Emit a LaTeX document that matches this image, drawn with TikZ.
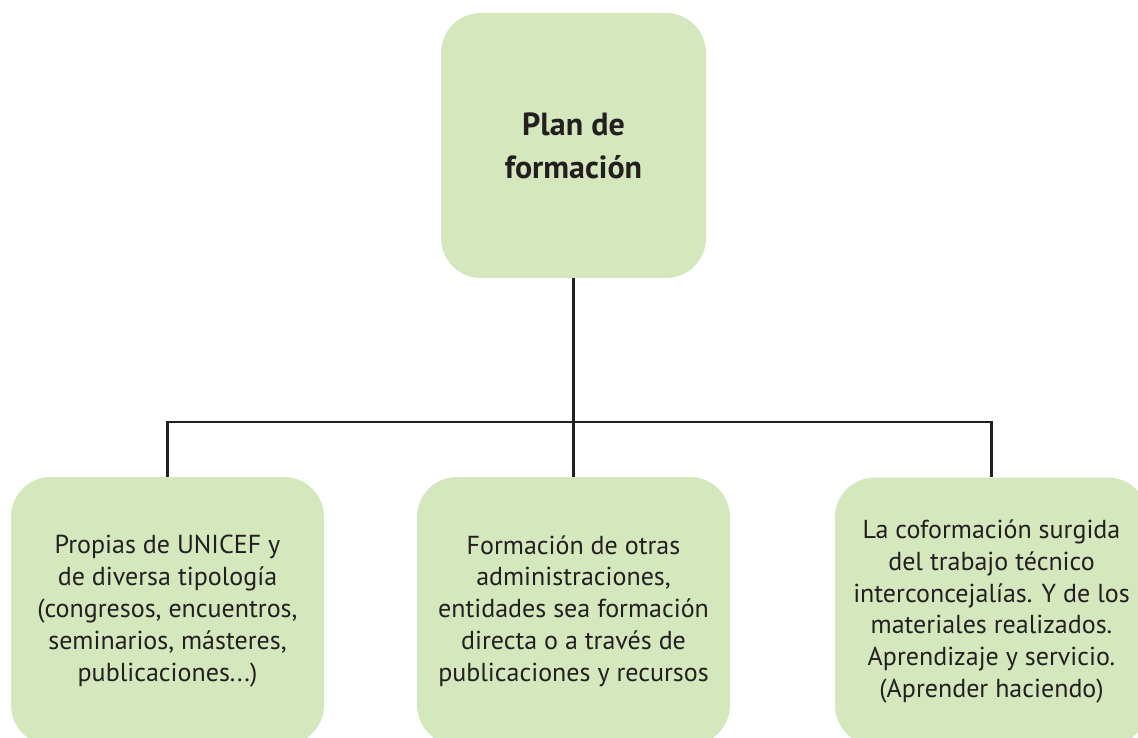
\documentclass[tikz,border=0pt]{standalone}
\usepackage{fontspec}
\setmainfont{PT Sans}
\definecolor{boxgreen}{RGB}{213,232,189}
\definecolor{ink}{RGB}{35,31,32}
\begin{document}
\begin{tikzpicture}[x=1pt,y=-1pt,
  box/.style={fill=boxgreen, draw=none, rounded corners=40pt, align=center,
    text=ink, inner sep=0pt, minimum width=313pt, minimum height=268pt,
    font=\fontsize{26}{31.8}\selectfont},
  topbox/.style={box, minimum width=265pt, minimum height=265pt,
    font=\fontsize{32}{43}\selectfont\bfseries},
  link/.style={draw=ink, line width=2.4pt}]
\useasboundingbox (0,0) rectangle (1138,738);
\clip (0,0) rectangle (1138,738);
\fill[white] (0,0) rectangle (1138,738);
\node[topbox] (top) at (573.5,145.5) {Plan de\\formación};
\node[box] (left) at (167.5,611) {Propias de UNICEF y\\de diversa tipología\\(congresos, encuentros,\\seminarios, másteres,\\publicaciones...)};
\node[box] (mid) at (573.5,611) {Formación de otras\\administraciones,\\entidades sea formación\\directa o a través de\\publicaciones y recursos};
\node[box] (right) at (991.5,611.5) {La coformación surgida\\del trabajo técnico\\interconcejalías. Y de los\\materiales realizados.\\Aprendizaje y servicio.\\(Aprender haciendo)};
\coordinate (bus) at (573.5,422);
\draw[link] (top.south) -- (mid.north);
\draw[link] (left.north) |- (bus) -| (right.north);
\end{tikzpicture}
\end{document}
